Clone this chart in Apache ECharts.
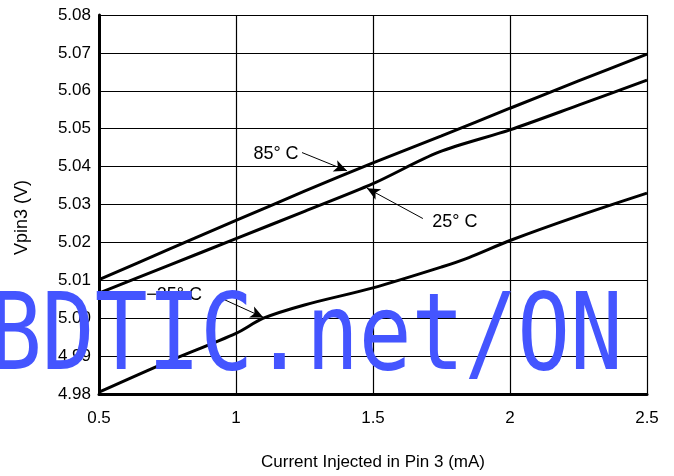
<!DOCTYPE html>
<html><head><meta charset="utf-8">
<script src="https://cdn.jsdelivr.net/npm/echarts@6/dist/echarts.min.js"></script>
<style>html,body{margin:0;padding:0;background:#fff}#c{width:674px;height:476px}</style>
</head><body><div id="c"></div>
<script>
// Data
const x85 = [0.5, 0.75, 1.0, 1.25, 1.5, 1.75, 2.0, 2.25, 2.5];
const v85 = [5.0102, 5.018, 5.0258, 5.0335, 5.041, 5.0481, 5.0554, 5.0626, 5.0697];
const x25 = [0.5, 0.75, 1.0, 1.25, 1.5, 1.74, 2.0, 2.25, 2.5];
const v25 = [5.0066, 5.0138, 5.021, 5.0282, 5.0355, 5.0438, 5.0497, 5.0562, 5.0628];
const xm25 = [0.5, 0.75, 1.0, 1.1, 1.25, 1.5, 1.75, 1.85, 2.0, 2.25, 2.5];
const vm25 = [4.9805, 4.9885, 4.996, 5.0, 5.0035, 5.008, 5.0135, 5.016, 5.0205, 5.027, 5.033];
const seriesNames = ['85° C', '25° C', '\u221225° C'];
// annotation anchors in data coordinates: label centre, arrow start, arrow tip
const labelAt = [[1.146, 5.0432], [1.799, 5.0255], [0.774, 5.0061]];
const arrowFrom = [[1.241, 5.0437], [1.682, 5.0263], [0.942, 5.0054]];
const arrowTo = [[1.405, 5.0389], [1.478, 5.0343], [1.10, 5.0002]];
const xTicks = [0.5, 2.5, 0.5];   // min, max, interval
const yTicks = [4.98, 5.08, 0.01];
const xTitle = 'Current Injected in Pin 3 (mA)';
const yTitle = 'Vpin3 (V)';
const watermark = 'BDTIC.net/ON';

const FONT = '"Liberation Sans", Arial, sans-serif';
const xs = [x85, x25, xm25], vs = [v85, v25, vm25];

const chart = echarts.init(document.getElementById('c'), null, {renderer: 'canvas'});
const series = xs.map((xx, i) => ({
  name: seriesNames[i],
  type: 'line',
  data: xx.map((x, j) => [x, vs[i][j]]),
  smooth: 0.3,
  symbol: 'none',
  lineStyle: {color: '#000', width: 3},
  emphasis: {disabled: true},
  silent: true,
  z: 3,
  markLine: {
    silent: true,
    label: {show: false},
    lineStyle: {color: '#000', width: 1, type: 'solid'},
    emphasis: {disabled: true},
    data: [[
      {coord: arrowFrom[i], symbol: 'none', symbolSize: 0},
      {coord: arrowTo[i], symbol: 'arrow', symbolSize: [9, 13]}
    ]]
  },
  markPoint: {
    silent: true,
    symbol: 'circle',
    symbolSize: 0,
    label: {show: true, position: 'inside', formatter: seriesNames[i], color: '#000',
      fontSize: 18, fontFamily: FONT},
    data: [{coord: labelAt[i]}]
  }
}));

chart.setOption({
  animation: false,
  backgroundColor: '#fff',
  grid: {left: 99, right: 27, top: 15, bottom: 81},
  xAxis: {
    type: 'value', min: xTicks[0], max: xTicks[1], interval: xTicks[2],
    name: xTitle, nameLocation: 'middle', nameGap: 60,
    nameTextStyle: {fontSize: 17, color: '#000', fontFamily: FONT},
    axisLine: {show: true, lineStyle: {color: '#000', width: 3}},
    axisTick: {show: false},
    axisLabel: {fontSize: 17, color: '#000', fontFamily: FONT, margin: 16},
    splitLine: {show: true, lineStyle: {color: '#000', width: 1.2}}
  },
  yAxis: {
    type: 'value', min: yTicks[0], max: yTicks[1], interval: yTicks[2],
    name: yTitle, nameLocation: 'middle', nameRotate: 90, nameGap: 68,
    nameTextStyle: {fontSize: 18, color: '#000', fontFamily: FONT, padding: [0, 26, 0, 0]},
    axisLine: {show: true, lineStyle: {color: '#000', width: 3}},
    axisTick: {show: false},
    axisLabel: {fontSize: 17, color: '#000', fontFamily: FONT, margin: 8,
      formatter: v => v.toFixed(2)},
    splitLine: {show: true, lineStyle: {color: '#000', width: 1.2}}
  },
  series: series,
  graphic: [{
    type: 'text', x: -11, y: 341, scaleX: 0.82, z: 100, silent: true,
    style: {text: watermark, font: '107px "DejaVu Sans Mono", monospace', fill: '#4455ff',
      textAlign: 'left', textVerticalAlign: 'middle'}
  }]
});
</script>
</body></html>
